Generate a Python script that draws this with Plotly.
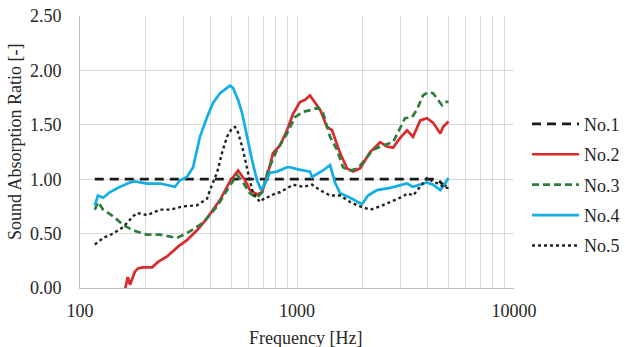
import plotly.graph_objects as go

# ---- data ----
f1 = [117, 4418, 4658, 4992]
y1 = [1.00, 1.00, 0.96, 0.92]

f2 = [161, 166, 170, 179, 185, 195, 215, 229, 252, 283, 311, 346, 385, 442, 491, 529, 535, 576,
      607, 654, 690, 727, 775, 835, 899, 959, 1032, 1089, 1148, 1185, 1277, 1375, 1450, 1580,
      1700, 1812, 1954, 2173, 2417, 2598, 2770, 2990, 3213, 3424, 3698, 3972, 4234, 4574, 4708, 4992]
y2 = [-0.02, 0.10, 0.03, 0.15, 0.18, 0.19, 0.19, 0.24, 0.29, 0.38, 0.44, 0.53, 0.64, 0.81, 0.98, 1.07,
      1.08, 0.99, 0.90, 0.86, 0.88, 1.02, 1.24, 1.31, 1.45, 1.60, 1.71, 1.73, 1.77, 1.73, 1.64, 1.48,
      1.45, 1.24, 1.10, 1.07, 1.10, 1.25, 1.34, 1.30, 1.29, 1.38, 1.45, 1.39, 1.54, 1.56, 1.52, 1.42,
      1.48, 1.53]

f3 = [117, 121, 128, 142, 158, 176, 204, 234, 280, 321, 369, 428, 476, 529, 564, 607, 654, 690,
      735, 809, 899, 979, 1066, 1185, 1250, 1318, 1420, 1529, 1629, 1757, 1910, 2058, 2240, 2491,
      2770, 2920, 3145, 3388, 3573, 3807, 4015, 4234, 4465, 4658, 4808, 4992]
y3 = [0.72, 0.79, 0.72, 0.66, 0.58, 0.53, 0.49, 0.49, 0.46, 0.52, 0.60, 0.75, 0.90, 1.04, 0.97,
      0.87, 0.83, 0.88, 1.08, 1.27, 1.42, 1.57, 1.62, 1.64, 1.66, 1.61, 1.39, 1.27, 1.11, 1.08,
      1.10, 1.18, 1.27, 1.31, 1.34, 1.43, 1.56, 1.57, 1.64, 1.77, 1.80, 1.79, 1.73, 1.68, 1.71, 1.71]

f4 = [117, 121, 128, 137, 153, 170, 179, 204, 234, 274, 289, 311, 332, 357, 385, 410, 442, 476,
      491, 507, 535, 558, 588, 620, 654, 683, 712, 751, 809, 899, 929, 1011, 1148, 1173, 1318,
      1420, 1497, 1580, 1757, 1993, 2125, 2337, 2688, 2990, 3213, 3424, 3972, 4234, 4574, 4808, 4992]
y4 = [0.76, 0.85, 0.83, 0.88, 0.93, 0.97, 0.98, 0.96, 0.96, 0.93, 0.99, 1.02, 1.11, 1.39, 1.57,
      1.70, 1.79, 1.84, 1.86, 1.84, 1.73, 1.61, 1.39, 1.18, 0.99, 0.90, 0.96, 1.06, 1.07, 1.11,
      1.11, 1.09, 1.07, 1.02, 1.08, 1.13, 0.97, 0.87, 0.83, 0.77, 0.85, 0.90, 0.92, 0.94, 0.96,
      0.93, 0.97, 0.95, 0.90, 0.96, 1.01]

f5 = [117, 128, 142, 158, 176, 183, 204, 234, 260, 298, 346, 385, 397, 428, 451, 476, 502, 518,
      535, 564, 595, 627, 675, 712, 751, 792, 835, 899, 959, 1066, 1173, 1277, 1420, 1580, 1757,
      1954, 2173, 2417, 2688, 2990, 3248, 3424, 3767, 3972, 4234, 4574, 4808, 4992]
y5 = [0.40, 0.46, 0.50, 0.56, 0.66, 0.69, 0.67, 0.72, 0.72, 0.75, 0.76, 0.82, 0.90, 1.06, 1.24,
      1.39, 1.47, 1.48, 1.43, 1.27, 1.06, 0.87, 0.79, 0.83, 0.84, 0.87, 0.88, 0.92, 0.95, 0.93,
      0.95, 0.90, 0.85, 0.85, 0.79, 0.75, 0.72, 0.75, 0.79, 0.83, 0.87, 0.85, 0.95, 1.01, 0.98,
      0.95, 0.92, 0.92]

names = ["No.1", "No.2", "No.3", "No.4", "No.5"]
x_ticks = [100, 1000, 10000]
x_minor = [200, 300, 400, 500, 600, 700, 800, 900, 2000, 3000, 4000, 5000, 6000, 7000, 8000, 9000]
y_ticks = [0, 0.5, 1.0, 1.5, 2.0, 2.5]
x_title = "Frequency [Hz]"
y_title = "Sound Absorption Ratio [-]"

FONT = "Liberation Serif, DejaVu Serif, serif"
TXT = "#262626"
GRID = "#d9d9d9"

series = [
    (f1, y1, dict(color="#1a1a1a", width=2.8, dash="9px,6px")),
    (f2, y2, dict(color="#d92b2b", width=2.7)),
    (f3, y3, dict(color="#2e7d3e", width=2.7, dash="7px,4px")),
    (f4, y4, dict(color="#12aee6", width=2.7)),
    (f5, y5, dict(color="#222222", width=2.4, dash="dot")),
]

fig = go.Figure()
for name, (fx, fy, ln) in zip(names, series):
    fig.add_trace(go.Scatter(x=fx, y=fy, name=name, mode="lines", line=ln, legendgroup=name))

fig.update_layout(
    width=625, height=347,
    margin=dict(l=80, r=111, t=16, b=59, autoexpand=False),
    paper_bgcolor="white", plot_bgcolor="white",
    font=dict(family=FONT, size=18, color=TXT),
    legend=dict(x=1.03, y=0.38, xanchor="left", yanchor="middle",
                font=dict(family=FONT, size=18, color=TXT),
                itemwidth=47, tracegroupgap=4, bgcolor="rgba(0,0,0,0)"),
    xaxis=dict(type="log", range=[2, 4], tickvals=x_ticks, ticktext=[str(v) for v in x_ticks],
               tickfont=dict(family=FONT, size=18, color=TXT),
               showgrid=True, gridcolor=GRID, gridwidth=1,
               minor=dict(tickvals=x_minor, showgrid=True, gridcolor=GRID, gridwidth=1),
               showline=True, linecolor="#bfbfbf", linewidth=1,
               ticks="", zeroline=False, automargin=False, ticklabelstandoff=6),
    yaxis=dict(range=[0, 2.5], tickvals=y_ticks, tickformat=".2f",
               tickfont=dict(family=FONT, size=18, color=TXT),
               showgrid=True, gridcolor=GRID, gridwidth=1,
               showline=True, linecolor="#bfbfbf", linewidth=1,
               ticks="", zeroline=False, automargin=False, ticklabelstandoff=14),
    annotations=[
        dict(text=x_title, xref="paper", yref="paper", x=0.52, y=-0.184,
             xanchor="center", yanchor="middle", showarrow=False,
             font=dict(family=FONT, size=18, color=TXT)),
        dict(text=y_title, xref="paper", yref="paper", x=-0.150, y=0.54,
             xanchor="center", yanchor="middle", showarrow=False, textangle=-90,
             font=dict(family=FONT, size=18, color=TXT)),
    ],
)

fig.write_html("out.html")
